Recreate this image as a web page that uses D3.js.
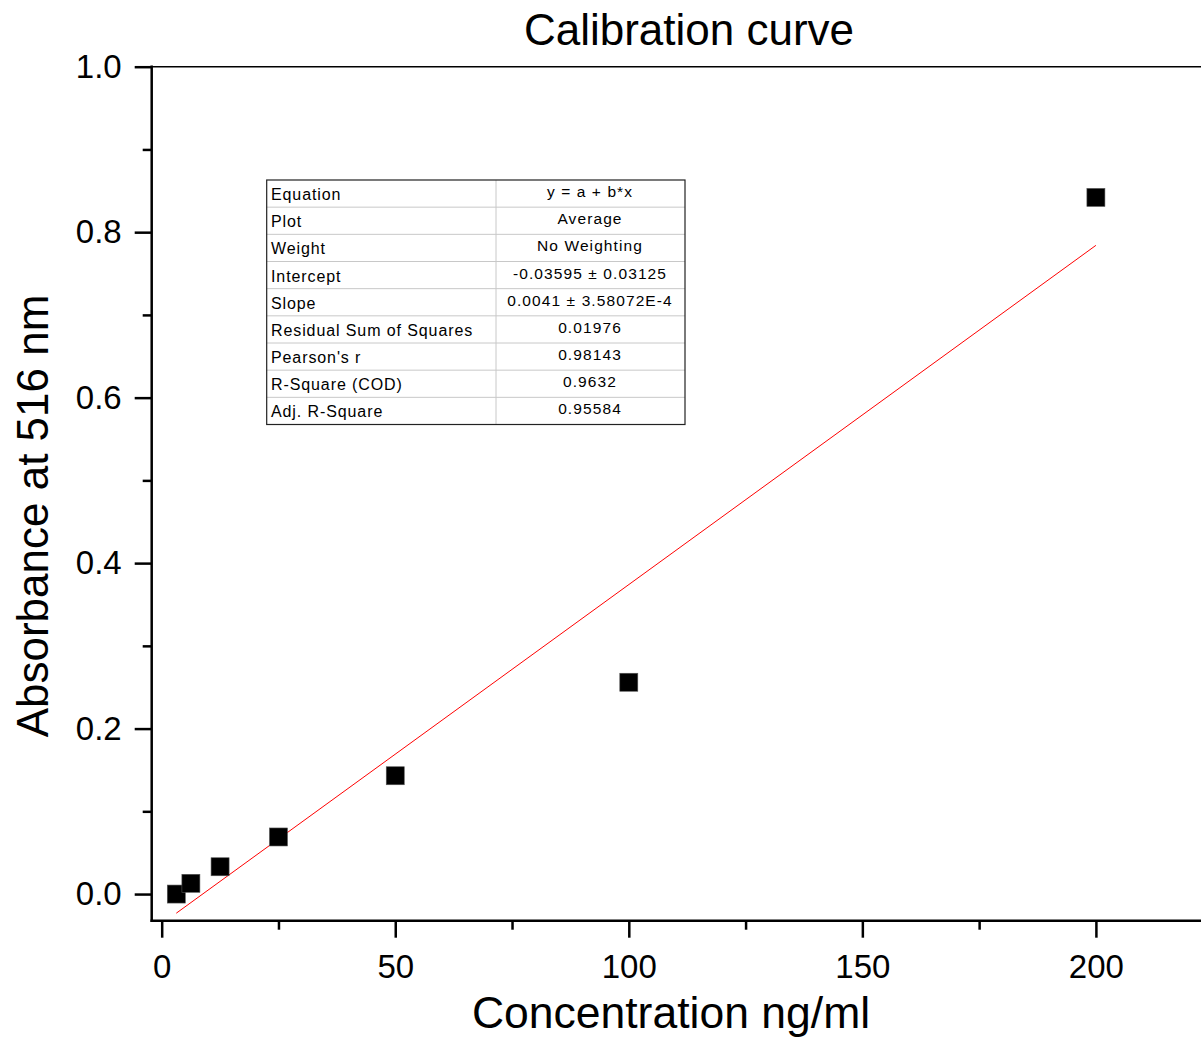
<!DOCTYPE html>
<html>
<head>
<meta charset="utf-8">
<script src="https://cdn.jsdelivr.net/npm/d3@7"></script>
<style>
html,body{margin:0;padding:0;background:#fff;}
svg{display:block;font-family:"Liberation Sans",Arial,sans-serif;}
</style>
</head>
<body>
<svg id="chart" width="1201" height="1037"></svg>
<script>
// ---- data ----
const concentrations = [3.125, 6.25, 12.5, 25, 50, 100, 200];
const absorbances = [0.0, 0.013, 0.033, 0.069, 0.143, 0.256, 0.842];
const fitIntercept = -0.03595;
const fitSlope = 0.0041;
const xMajorTicks = [0, 50, 100, 150, 200];
const xMinorTicks = [25, 75, 125, 175];
const yMajorTicks = [0, 0.2, 0.4, 0.6, 0.8, 1.0];
const yMinorTicks = [0.1, 0.3, 0.5, 0.7, 0.9];
const tableLabels = ["Equation","Plot","Weight","Intercept","Slope","Residual Sum of Squares","Pearson's r","R-Square (COD)","Adj. R-Square"];
const tableValues = ["y = a + b*x","Average","No Weighting","-0.03595 \u00b1 0.03125","0.0041 \u00b1 3.58072E-4","0.01976","0.98143","0.9632","0.95584"];
const titleText = "Calibration curve";
const xTitle = "Concentration ng/ml";
const yTitle = "Absorbance at 516 nm";

(function () {
const svg = d3.select("#chart");
const pL = 151.7, pR = 1201, pT = 66.7, pB = 920.7;
const x = d3.scaleLinear().domain([-2.14, 222.5]).range([pL, pR]);
const y = d3.scaleLinear().domain([-0.0322, 1.0]).range([pB, pT]);

// top frame line
svg.append("line").attr("x1", pL).attr("x2", pR).attr("y1", pT).attr("y2", pT)
  .attr("stroke", "#000").attr("stroke-width", 1.6);

// fit line
const fx0 = concentrations[0], fx1 = concentrations[concentrations.length - 1];
svg.append("line")
  .attr("x1", x(fx0)).attr("y1", y(fitIntercept + fitSlope * fx0))
  .attr("x2", x(fx1)).attr("y2", y(fitIntercept + fitSlope * fx1))
  .attr("stroke", "#ff0000").attr("stroke-width", 1);

// points
svg.selectAll("rect.pt").data(concentrations.map((c, i) => [c, absorbances[i]]))
  .enter().append("rect").attr("class", "pt")
  .attr("x", d => x(d[0]) - 9).attr("y", d => y(d[1]) - 9)
  .attr("width", 18).attr("height", 18)
  .attr("fill", "#000").attr("stroke", "#555").attr("stroke-width", 0.6);

// x axis
const xAxis = svg.append("g").attr("transform", `translate(0,${pB})`);
xAxis.call(d3.axisBottom(x).tickValues(xMajorTicks).tickSize(17).tickSizeOuter(0).tickPadding(17).tickFormat(d3.format("d")));
xAxis.select(".domain").remove();
xAxis.selectAll(".tick line").attr("stroke-width", 2.5);
xAxis.selectAll("text").attr("font-size", 33).attr("fill", "#000")
  .attr("font-family", "Liberation Sans, Arial, sans-serif");
const xMinor = svg.append("g").attr("transform", `translate(0,${pB})`);
xMinor.call(d3.axisBottom(x).tickValues(xMinorTicks).tickSize(9).tickSizeOuter(0).tickFormat(""));
xMinor.select(".domain").remove();
xMinor.selectAll(".tick line").attr("stroke-width", 2.5);
svg.append("line").attr("x1", pL - 1.2).attr("x2", pR).attr("y1", pB).attr("y2", pB)
  .attr("stroke", "#000").attr("stroke-width", 2.5);

// y axis
const yAxis = svg.append("g").attr("transform", `translate(${pL},0)`);
yAxis.call(d3.axisLeft(y).tickValues(yMajorTicks).tickSize(17).tickSizeOuter(0).tickPadding(13).tickFormat(d3.format(".1f")));
yAxis.select(".domain").remove();
yAxis.selectAll(".tick line").attr("stroke-width", 2.5);
yAxis.selectAll("text").attr("font-size", 33).attr("fill", "#000")
  .attr("font-family", "Liberation Sans, Arial, sans-serif");
const yMinor = svg.append("g").attr("transform", `translate(${pL},0)`);
yMinor.call(d3.axisLeft(y).tickValues(yMinorTicks).tickSize(9).tickSizeOuter(0).tickFormat(""));
yMinor.select(".domain").remove();
yMinor.selectAll(".tick line").attr("stroke-width", 2.5);
svg.append("line").attr("x1", pL).attr("x2", pL).attr("y1", pT - 1.2).attr("y2", pB + 1.2)
  .attr("stroke", "#000").attr("stroke-width", 2.5);

// titles
svg.append("text").attr("x", 689).attr("y", 45).attr("text-anchor", "middle")
  .attr("font-size", 44).attr("fill", "#000").text(titleText);
svg.append("text").attr("x", 671).attr("y", 1028).attr("text-anchor", "middle")
  .attr("font-size", 44.5).attr("fill", "#000").text(xTitle);
svg.append("text").attr("transform", "translate(48,516) rotate(-90)").attr("text-anchor", "middle")
  .attr("font-size", 44).attr("fill", "#000").text(yTitle);

// stats table
const tx0 = 266.7, tx1 = 685, tdiv = 496, ty0 = 180, ty1 = 424.5;
const rowH = (ty1 - ty0) / tableLabels.length;
const tbl = svg.append("g");
tbl.append("rect").attr("x", tx0).attr("y", ty0).attr("width", tx1 - tx0).attr("height", ty1 - ty0)
  .attr("fill", "#fff").attr("stroke", "none");
tableLabels.forEach((lab, i) => {
  if (i > 0) tbl.append("line").attr("x1", tx0).attr("x2", tx1)
    .attr("y1", ty0 + i * rowH).attr("y2", ty0 + i * rowH)
    .attr("stroke", "#c8c8c8").attr("stroke-width", 1);
  tbl.append("text").attr("x", 271).attr("y", ty0 + i * rowH + 20)
    .attr("font-size", 16).attr("letter-spacing", 0.9).attr("fill", "#000").text(lab);
  tbl.append("text").attr("x", 590).attr("y", ty0 + i * rowH + 17)
    .attr("text-anchor", "middle").attr("font-size", 15.5).attr("letter-spacing", 1.1)
    .attr("fill", "#000").text(tableValues[i]);
});
tbl.append("line").attr("x1", tdiv).attr("x2", tdiv).attr("y1", ty0).attr("y2", ty1)
  .attr("stroke", "#c8c8c8").attr("stroke-width", 1);
tbl.append("rect").attr("x", tx0).attr("y", ty0).attr("width", tx1 - tx0).attr("height", ty1 - ty0)
  .attr("fill", "none").attr("stroke", "#222").attr("stroke-width", 1.2);
})();
</script>
</body>
</html>
